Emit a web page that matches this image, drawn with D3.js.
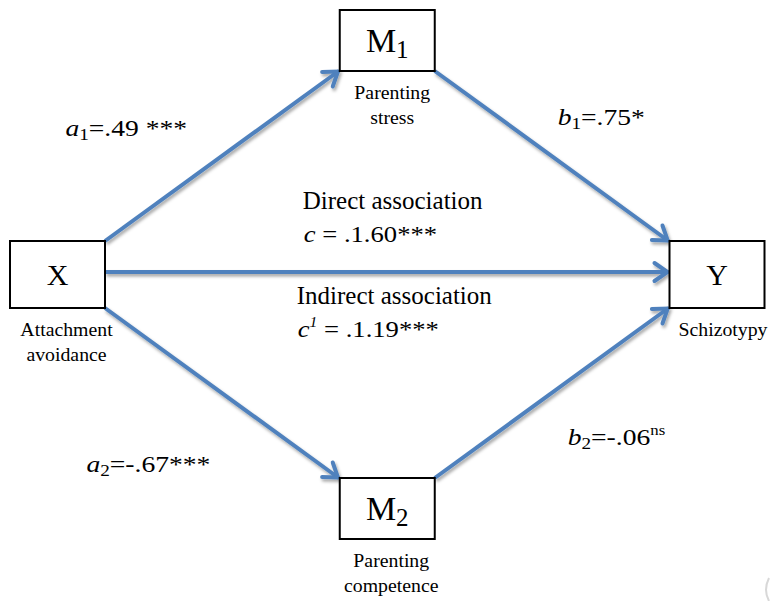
<!DOCTYPE html>
<html>
<head>
<meta charset="utf-8">
<script src="https://cdn.jsdelivr.net/npm/d3@7"></script>
<style>
  body { margin: 0; background: #fff; }
  text { font-family: "Liberation Serif", "Times New Roman", serif; fill: #000; }
</style>
</head>
<body>
<div id="chart"></div>
<script>
// layout grid of the mediation model
const columns = ["X", "M", "Y"];
const rows = ["top", "mid", "bottom"];

// nodes
const nodeIds = ["X", "M1", "M2", "Y"];
const nodeSymbols = ["X", "M", "M", "Y"];
const nodeSubs = ["", "1", "2", ""];
const nodeCols = ["X", "M", "M", "Y"];
const nodeRows = ["mid", "top", "bottom", "mid"];
const nodeCaptions = [["Attachment", "avoidance"], ["Parenting", "stress"], ["Parenting", "competence"], ["Schizotypy"]];

// paths with their coefficients
const pathFrom = ["X", "M1", "X", "M2", "X"];
const pathTo = ["M1", "Y", "M2", "Y", "Y"];
const pathCoefName = ["a", "b", "a", "b"];
const pathCoefSub = ["1", "1", "2", "2"];
const pathCoefValue = ["=.49", "=.75", "=-.67", "=-.06"];
const pathCoefSig = [" ***", "*", "***", "ns"];

// direct / indirect association on the X -> Y path
const assocTitles = ["Direct association", "Indirect association"];
const assocSup = ["", "1"];
const assocValues = [" = .1.60", " = .1.19"];
const assocSig = ["***", "***"];

const width = 770, height = 601;
const blue = "#4f81bd";

const svg = d3.select("#chart")
    .append("svg")
    .attr("width", width)
    .attr("height", height);

const defs = svg.append("defs");
const shadow = defs.append("filter").attr("id", "shadow")
    .attr("x", "-20%").attr("y", "-20%").attr("width", "140%").attr("height", "140%");
shadow.append("feDropShadow")
    .attr("dx", 1.5).attr("dy", 2.5).attr("stdDeviation", 1.8)
    .attr("flood-color", "#000").attr("flood-opacity", 0.35);

defs.append("marker")
    .attr("id", "arrow")
    .attr("markerUnits", "userSpaceOnUse")
    .attr("viewBox", "-18 -12 22 24")
    .attr("refX", 0).attr("refY", 0)
    .attr("markerWidth", 22).attr("markerHeight", 24)
    .attr("orient", "auto")
    .append("path")
    .attr("d", "M-14,-9 L-1,0 L-14,9")
    .attr("fill", "none")
    .attr("stroke", blue)
    .attr("stroke-width", 4)
    .attr("stroke-linecap", "round")
    .attr("stroke-linejoin", "miter");

// scales for the grid
const x = d3.scalePoint().domain(columns).range([57.5, 717]);
const y = d3.scalePoint().domain(rows).range([40.5, 508.5]);

const boxW = 95;
const boxH = id => id.startsWith("M") ? 61 : 67;

const nodes = nodeIds.map((id, i) => ({
    id: id,
    symbol: nodeSymbols[i],
    sub: nodeSubs[i],
    caption: nodeCaptions[i],
    cx: x(nodeCols[i]),
    cy: y(nodeRows[i]),
    w: boxW,
    h: boxH(id)
}));
const byId = Object.fromEntries(nodes.map(d => [d.id, d]));

// edges: corner to corner for diagonals, side to side for the straight one
const edges = pathFrom.map((f, i) => {
    const a = byId[f], b = byId[pathTo[i]];
    const sx = Math.sign(b.cx - a.cx), sy = Math.sign(b.cy - a.cy);
    let x1, y1, x2, y2;
    if (sy === 0) {
        x1 = a.cx + sx * a.w / 2; y1 = a.cy - 2.5;
        x2 = b.cx - sx * b.w / 2 - 1; y2 = b.cy - 2.5;
    } else {
        x1 = a.cx + sx * a.w / 2; y1 = a.cy + sy * a.h / 2;
        x2 = b.cx - sx * b.w / 2 - 1; y2 = b.cy - sy * b.h / 2;
    }
    return { i, x1, y1, x2, y2, mx: (x1 + x2) / 2, my: (y1 + y2) / 2 };
});

svg.append("g")
    .attr("filter", "url(#shadow)")
    .selectAll("line")
    .data(edges)
    .join("line")
    .attr("x1", d => d.x1).attr("y1", d => d.y1)
    .attr("x2", d => d.x2).attr("y2", d => d.y2)
    .attr("stroke", blue)
    .attr("stroke-width", 4)
    .attr("marker-end", "url(#arrow)");

// boxes
const nodeG = svg.append("g")
    .selectAll("g")
    .data(nodes)
    .join("g")
    .attr("transform", d => `translate(${d.cx},${d.cy})`);

nodeG.append("rect")
    .attr("x", d => -d.w / 2).attr("y", d => -d.h / 2)
    .attr("width", d => d.w).attr("height", d => d.h)
    .attr("fill", "#fff")
    .attr("stroke", "#000")
    .attr("stroke-width", 2);

const sym = nodeG.append("text")
    .attr("text-anchor", "middle")
    .attr("y", d => d.sub ? 11 : 10)
    .style("font-size", d => d.sub ? "34px" : "30px");
sym.append("tspan").text(d => d.symbol);
sym.append("tspan")
    .attr("dy", 6)
    .style("font-size", "25px")
    .text(d => d.sub);

// captions under the boxes
const capDx = { X: 9, M1: 5, M2: 4, Y: 6 };
nodeG.each(function(d) {
    d3.select(this).selectAll("text.cap")
        .data(d.caption)
        .join("text")
        .attr("class", "cap")
        .attr("text-anchor", "middle")
        .attr("x", capDx[d.id])
        .attr("y", (c, j) => d.h / 2 + 28 + j * 24.5)
        .style("font-size", "19.8px")
        .text(c => c);
});

// coefficient labels, placed from the edge midpoints
const coefOffset = [[-156.5, -20.5], [6, -31.5], [-135.5, 78.5], [16, 51.5]];
const coefScale = 1.2;
pathCoefName.forEach((n, i) => {
    const e = edges[i];
    const t = svg.append("text")
        .attr("transform", `translate(${e.mx + coefOffset[i][0]},${e.my + coefOffset[i][1]}) scale(${coefScale},1)`)
        .style("font-size", "23px");
    t.append("tspan").style("font-style", "italic").text(n);
    t.append("tspan").attr("dy", 4).style("font-size", "16px").text(pathCoefSub[i]);
    t.append("tspan").attr("dy", -4).text(pathCoefValue[i]);
    if (pathCoefSig[i] === "ns") {
        t.append("tspan").attr("dy", -10).style("font-size", "14px").text(pathCoefSig[i]);
    } else {
        t.append("tspan").text(pathCoefSig[i]);
    }
});

// direct / indirect association text on the straight path
const straight = edges[4];
const assocOffset = [[-84, -63], [-90, 32]];
assocTitles.forEach((title, i) => {
    const ox = straight.mx + assocOffset[i][0], oy = straight.my + assocOffset[i][1];
    svg.append("text")
        .attr("x", ox)
        .attr("y", oy)
        .style("font-size", "25px")
        .text(title);
    const t = svg.append("text")
        .attr("transform", `translate(${ox + 1},${oy + 32.5}) scale(1.11,1)`)
        .style("font-size", "24px");
    t.append("tspan").style("font-style", "italic").text("c");
    if (assocSup[i]) {
        t.append("tspan").attr("dy", -10).style("font-size", "14px").style("font-style", "italic").text(assocSup[i]);
        t.append("tspan").attr("dy", 10).text(assocValues[i] + assocSig[i]);
    } else {
        t.append("tspan").text(assocValues[i] + assocSig[i]);
    }
});

// faint scan artefact at the lower right corner
svg.append("path")
    .attr("d", "M769,578 Q763,590 769,601")
    .attr("fill", "none")
    .attr("stroke", "#d8d8d8")
    .attr("stroke-width", 2);
</script>
</body>
</html>
